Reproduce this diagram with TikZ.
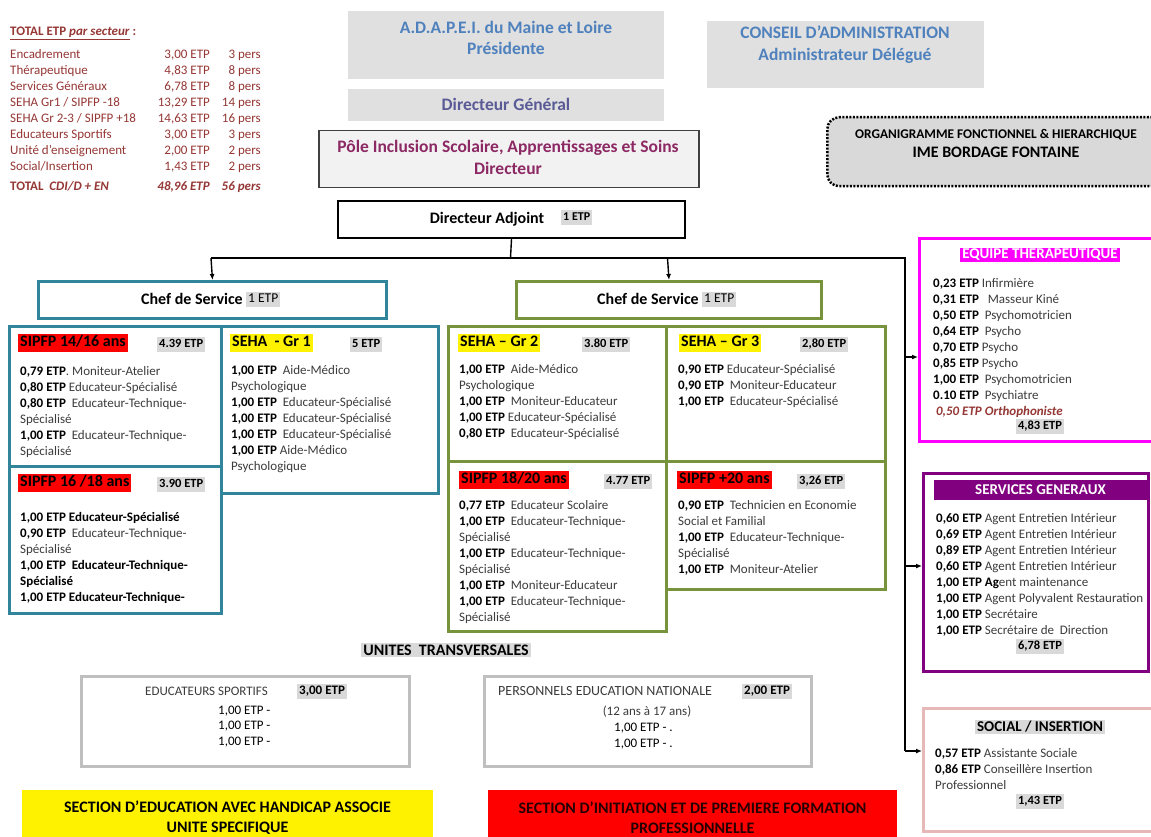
\documentclass[tikz,border=0pt]{standalone}
\usepackage{fontspec}
\setmainfont{Carlito}
\usetikzlibrary{arrows.meta}
\definecolor{cteal}{RGB}{49,133,155}
\definecolor{cgreen}{RGB}{119,147,60}
\definecolor{cmag}{RGB}{255,0,255}
\definecolor{cpurp}{RGB}{128,0,128}
\definecolor{cpink}{RGB}{230,184,183}
\definecolor{cfill}{RGB}{224,224,224}
\definecolor{cblue}{RGB}{79,129,189}
\definecolor{cdg}{RGB}{90,90,150}
\definecolor{cpole}{RGB}{140,40,100}
\definecolor{ctot}{RGB}{149,55,53}
\definecolor{chl}{RGB}{217,217,217}
\definecolor{cbord}{RGB}{191,191,191}
\definecolor{ctxt}{RGB}{60,60,60}
\definecolor{cdark}{RGB}{40,0,0}
\newcommand\fs[2]{\fontsize{#1}{#2}\selectfont}
\newcommand\etpb[1]{\textcolor{black}{\textbf{#1 ETP}}}
\newcommand\boxnode[6]{\node[#2, anchor=north west, inner sep=0pt, minimum width={(#5-#3)*1pt}, minimum height={(#6-#4)*1pt}] (#1) at (#3,#4) {};}
\newcommand\totrow[5]{%
\node[tot, anchor=base west] (#1a) at (10,#5) {#2};
\node[tot, anchor=base east] (#1b) at (210,#5) {#3 ETP};
\node[tot, anchor=base east] (#1c) at (261,#5) {#4 pers};}
\begin{document}
\begin{tikzpicture}[x=1pt,y=-1pt,
  tot/.style={inner sep=0pt, text=ctot, font=\fs{13}{15}},
  txt/.style={anchor=base west, inner sep=0pt, align=left, text=ctxt, font=\fs{13}{16}},
  lab/.style={anchor=west, inner xsep=2pt, inner ysep=1.5pt, font=\bfseries\fs{16}{19}, text height=11pt, text depth=3.5pt},
  tag/.style={anchor=west, fill=chl, inner xsep=2pt, inner ysep=1.5pt, font=\bfseries\fs{12.5}{15}, text height=9pt, text depth=3pt},
  head/.style={anchor=base, inner sep=0pt, font=\bfseries\fs{17.5}{20}},
  conn/.style={line width=1.4pt},
  arr/.style={line width=1.4pt, -{Latex[length=6pt,width=5pt]}},
  tbox/.style={draw=cteal, line width=3pt},
  gbox/.style={draw=cgreen, line width=3pt}]
\clip (0,0) rectangle (1151,837);
\fill[white] (0,0) rectangle (1151,837);

% ---------- frames
\boxnode{adapei}{fill=cfill}{348}{11}{664}{79}
\boxnode{dg}{fill=cfill}{348}{89}{664}{121}
\boxnode{pole}{draw=black!75, line width=1.5pt, fill=black!5}{318}{130}{698}{187}
\boxnode{ca}{fill=cfill}{707}{21}{984}{88}
\boxnode{orga}{draw, line width=2.5pt, dash pattern=on 2pt off 1.5pt, fill=chl, rounded corners=12pt}{826}{116}{1170}{185}
\boxnode{da}{draw, line width=2pt}{337}{200}{684}{237}
\boxnode{chefL}{tbox}{37}{280}{385}{317}
\boxnode{chefR}{gbox}{515}{280}{820}{317}
\boxnode{sA}{tbox}{8}{325}{220}{465}
\boxnode{sB}{tbox}{8}{465}{220}{612}
\boxnode{g1}{tbox}{220}{325}{437}{492}
\boxnode{g2}{gbox}{447}{325}{665}{460}
\boxnode{g3}{gbox}{665}{325}{884}{460}
\boxnode{sC}{gbox}{447}{460}{665}{630}
\boxnode{sD}{gbox}{665}{460}{884}{588}
\boxnode{eq}{draw=cmag, line width=3pt}{918}{237}{1170}{440}
\boxnode{sg}{draw=cpurp, line width=3pt}{922}{472}{1147}{670}
\boxnode{so}{draw=cpink, line width=3pt}{922}{707}{1170}{830}
\boxnode{es}{draw=cbord, line width=3pt}{80}{675}{408}{765}
\boxnode{pen}{draw=cbord, line width=3pt}{483}{675}{810}{765}
\boxnode{bY}{fill=yellow}{22}{790}{433}{850}
\boxnode{bR}{fill=red}{488}{790}{897}{850}

% ---------- connectors
\coordinate (j0) at (510.5,258);
\coordinate (jl) at (211,258);
\coordinate (jm) at (667.5,258);
\coordinate (jr) at (905,258);
\coordinate (jb) at (905,751);
\coordinate (ae) at (905,357);
\coordinate (as) at (905,566);
\draw[conn] (da.south) -- (j0);
\draw[conn] (jl) -- (jr) -- (jb);
\draw[arr] (jl) -- (chefL.north);
\draw[arr] (jm) -- (chefR.north);
\draw[arr] (ae) -- (ae -| eq.west);
\draw[arr] (as) -- (as -| sg.west);
\draw[arr] (jb) -- (jb -| so.west);

% ---------- totals
\node[tot, anchor=base west, font=\bfseries\fs{13}{15}] (th) at (10,36) {\underline{TOTAL ETP \textit{par secteur}} :};
\totrow{r1}{Encadrement}{3,00}{3}{59}
\totrow{r2}{Thérapeutique}{4,83}{8}{75}
\totrow{r3}{Services Généraux}{6,78}{8}{91}
\totrow{r4}{SEHA Gr1 / SIPFP -18}{13,29}{14}{107}
\totrow{r5}{SEHA Gr 2-3 / SIPFP +18}{14,63}{16}{123}
\totrow{r6}{Educateurs Sportifs}{3,00}{3}{139}
\totrow{r7}{Unité d’enseignement}{2,00}{2}{155}
\totrow{r8}{Social/Insertion}{1,43}{2}{171}
\node[tot, anchor=base west, font=\bfseries\fs{13}{15}] (r9a) at (10,191) {TOTAL\ \ \textit{CDI/D + EN}};
\node[tot, anchor=base east, font=\bfseries\itshape\fs{13}{15}] (r9b) at (210,191) {48,96 ETP};
\node[tot, anchor=base east, font=\bfseries\itshape\fs{13}{15}] (r9c) at (261,191) {56 pers};

% ---------- top texts
\node[head, text=cblue] (tad1) at (506,34) {A.D.A.P.E.I. du Maine et Loire};
\node[head, text=cblue] (tad2) at (506,55) {Présidente};
\node[head, text=cdg] (tdg) at (506,111) {Directeur Général};
\node[head, text=cpole] (tp1) at (508,153) {Pôle Inclusion Scolaire, Apprentissages et Soins};
\node[head, text=cpole] (tp2) at (508,175) {Directeur};
\node[head, text=cblue] (tca1) at (845,39) {CONSEIL D’ADMINISTRATION};
\node[head, text=cblue] (tca2) at (845,61) {Administrateur Délégué};
\node[head, font=\bfseries\fs{13.3}{15}] (to1) at (996,139) {ORGANIGRAMME FONCTIONNEL \& HIERARCHIQUE};
\node[head, font=\bfseries\fs{16}{19}] (to2) at (996,158) {IME BORDAGE FONTAINE};

\node[head, font=\bfseries\fs{16}{19}] (tda) at (487,223) {Directeur Adjoint};
\node[tag, font=\bfseries\fs{12}{15}] (tdae) at (561,218) {1 ETP};
\node[head, font=\bfseries\fs{16}{19}] (tcl) at (192,304) {Chef de Service};
\node[tag, font=\fs{13.5}{15}] (tcle) at (246,299) {1 ETP};
\node[head, font=\bfseries\fs{16}{19}] (tcr) at (648,304) {Chef de Service};
\node[tag, font=\fs{13.5}{15}] (tcre) at (702,299) {1 ETP};

% ---------- left group  (multi-line nodes: base = last line)
\node[lab, fill=red] (lA) at (18,343) {SIPFP 14/16 ans};
\node[tag] (eA) at (157,344) {4.39 ETP};
\node[txt] (cA) at (20,455) {\etpb{0,79}. Moniteur-Atelier\\
\etpb{0,80} Educateur-Spécialisé\\
\etpb{0,80}\ \ Educateur-Technique-\\Spécialisé\\
\etpb{1,00}\ \ Educateur-Technique-\\Spécialisé};

\node[lab, fill=red] (lB) at (18,483) {SIPFP 16 /18 ans};
\node[tag] (eB) at (157,484) {3.90 ETP};
\node[txt] (cB) at (20,601) {\textcolor{black}{\textbf{1,00 ETP Educateur-Spécialisé}}\\
\etpb{0,90}\ \ Educateur-Technique-\\Spécialisé\\
\textcolor{black}{\textbf{1,00 ETP\ \ Educateur-Technique-}}\\\textcolor{black}{\textbf{Spécialisé}}\\
\textcolor{black}{\textbf{1,00 ETP Educateur-Technique-}}};

\node[lab, fill=yellow] (l1) at (230,343) {SEHA\ \ - Gr 1};
\node[tag] (e1) at (350,344) {5 ETP};
\node[txt] (c1) at (231,470) {\etpb{1,00}\ \ Aide-Médico\\Psychologique\\
\etpb{1,00}\ \ Educateur-Spécialisé\\
\etpb{1,00}\ \ Educateur-Spécialisé\\
\etpb{1,00}\ \ Educateur-Spécialisé\\
\etpb{1,00} Aide-Médico\\Psychologique};

% ---------- right group
\node[lab, fill=yellow] (l2) at (458,343) {SEHA – Gr 2};
\node[tag] (e2) at (582,344) {3.80 ETP};
\node[txt] (c2) at (459,437) {\etpb{1,00}\ \ Aide-Médico\\Psychologique\\
\etpb{1,00}\ \ Moniteur-Educateur\\
\etpb{1,00} Educateur-Spécialisé\\
\etpb{0,80}\ \ Educateur-Spécialisé};

\node[lab, fill=yellow] (l3) at (679,343) {SEHA – Gr 3};
\node[tag] (e3) at (800,344) {2,80 ETP};
\node[txt] (c3) at (678,405) {\etpb{0,90} Educateur-Spécialisé\\
\etpb{0,90}\ \ Moniteur-Educateur\\
\etpb{1,00}\ \ Educateur-Spécialisé};

\node[lab, fill=red] (lC) at (459,480) {SIPFP 18/20 ans};
\node[tag] (eC) at (604,481) {4.77 ETP};
\node[txt] (cC) at (459,621) {\etpb{0,77}\ \ Educateur Scolaire\\
\etpb{1,00}\ \ Educateur-Technique-\\Spécialisé\\
\etpb{1,00}\ \ Educateur-Technique-\\Spécialisé\\
\etpb{1,00}\ \ Moniteur-Educateur\\
\etpb{1,00}\ \ Educateur-Technique-\\Spécialisé};

\node[lab, fill=red] (lD) at (677,480) {SIPFP +20 ans};
\node[tag] (eD) at (797,481) {3,26 ETP};
\node[txt] (cD) at (678,573) {\etpb{0,90}\ \ Technicien en Economie\\Social et Familial\\
\etpb{1,00}\ \ Educateur-Technique-\\Spécialisé\\
\etpb{1,00}\ \ Moniteur-Atelier};

% ---------- right column
\node[fill=cmag, text=white, font=\bfseries\fs{15}{18}, inner xsep=2pt, inner ysep=1.5pt] (teq) at (1040,255) {EQUIPE THERAPEUTIQUE};
\node[txt] (ceq) at (933,415) {\etpb{0,23} Infirmière\\
\etpb{0,31}\ \ \ Masseur Kiné\\
\etpb{0,50}\ \ Psychomotricien\\
\etpb{0,64}\ \ Psycho\\
\etpb{0,70} Psycho\\
\etpb{0,85} Psycho\\
\etpb{1,00}\ \ Psychomotricien\\
\etpb{0.10}\ \ Psychiatre\\
\ \textcolor{ctot}{\textbf{\textit{0,50 ETP Orthophoniste}}}};
\node[tag, anchor=center] (teqt) at (1040,426) {4,83 ETP};

\node[fill=cpurp, text=white, font=\bfseries\fs{15}{18}, minimum width=213pt, minimum height=20pt, inner sep=0pt] (tsg) at (1040.5,490) {SERVICES GENERAUX};
\node[txt] (csg) at (936,634) {\etpb{0,60} Agent Entretien Intérieur\\
\etpb{0,69} Agent Entretien Intérieur\\
\etpb{0,89} Agent Entretien Intérieur\\
\etpb{0,60} Agent Entretien Intérieur\\
\etpb{1,00} \textcolor{black}{\textbf{Ag}}ent maintenance\\
\etpb{1,00} Agent Polyvalent Restauration\\
\etpb{1,00} Secrétaire\\
\etpb{1,00} Secrétaire de\ \ Direction};
\node[tag, anchor=center] (tsgt) at (1040,646) {6,78 ETP};

\node[fill=chl, font=\bfseries\fs{15}{18}, inner xsep=2pt, inner ysep=1.5pt] (tso) at (1040,727) {SOCIAL / INSERTION};
\node[txt] (cso) at (935,789) {\etpb{0,57} Assistante Sociale\\
\etpb{0,86} Conseillère Insertion\\Professionnel};
\node[tag, anchor=center] (tsot) at (1040,801) {1,43 ETP};

% ---------- transversal units
\node[fill=chl, font=\bfseries\fs{16}{18}, inner xsep=2pt, inner ysep=1.5pt] (tut) at (446,650) {UNITES\ \ TRANSVERSALES};
\node[anchor=base west, inner sep=0pt, text=ctxt, font=\fs{13}{15}] (tes) at (145,695) {EDUCATEURS SPORTIFS};
\node[tag, font=\bfseries\fs{13}{15}] (tese) at (297,691) {3,00 ETP};
\node[txt, text=black, font=\fs{13}{15.5}] (tesl) at (218,745) {1,00 ETP -\\1,00 ETP -\\1,00 ETP -};
\node[anchor=base west, inner sep=0pt, text=ctxt, font=\fs{14}{15}] (tpen) at (498,695) {PERSONNELS EDUCATION NATIONALE};
\node[tag, font=\bfseries\fs{13}{15}] (tpene) at (742,691) {2,00 ETP};
\node[anchor=base, inner sep=0pt, text=ctxt, font=\fs{13}{15}] (tpen2) at (647,715) {(12 ans à 17 ans)};
\node[txt, text=black, font=\fs{13}{16}] (tpenl) at (614,747) {1,00 ETP - .\\1,00 ETP - .};

% ---------- banners
\node[align=center, font=\bfseries\fs{16}{20}] (tby) at (227.5,818) {SECTION D’EDUCATION AVEC HANDICAP ASSOCIE\\UNITE SPECIFIQUE};
\node[align=center, text=cdark, font=\bfseries\fs{16}{20}] (tbr) at (692.5,818) {SECTION D’INITIATION ET DE PREMIERE FORMATION\\PROFESSIONNELLE};
\end{tikzpicture}
\end{document}
